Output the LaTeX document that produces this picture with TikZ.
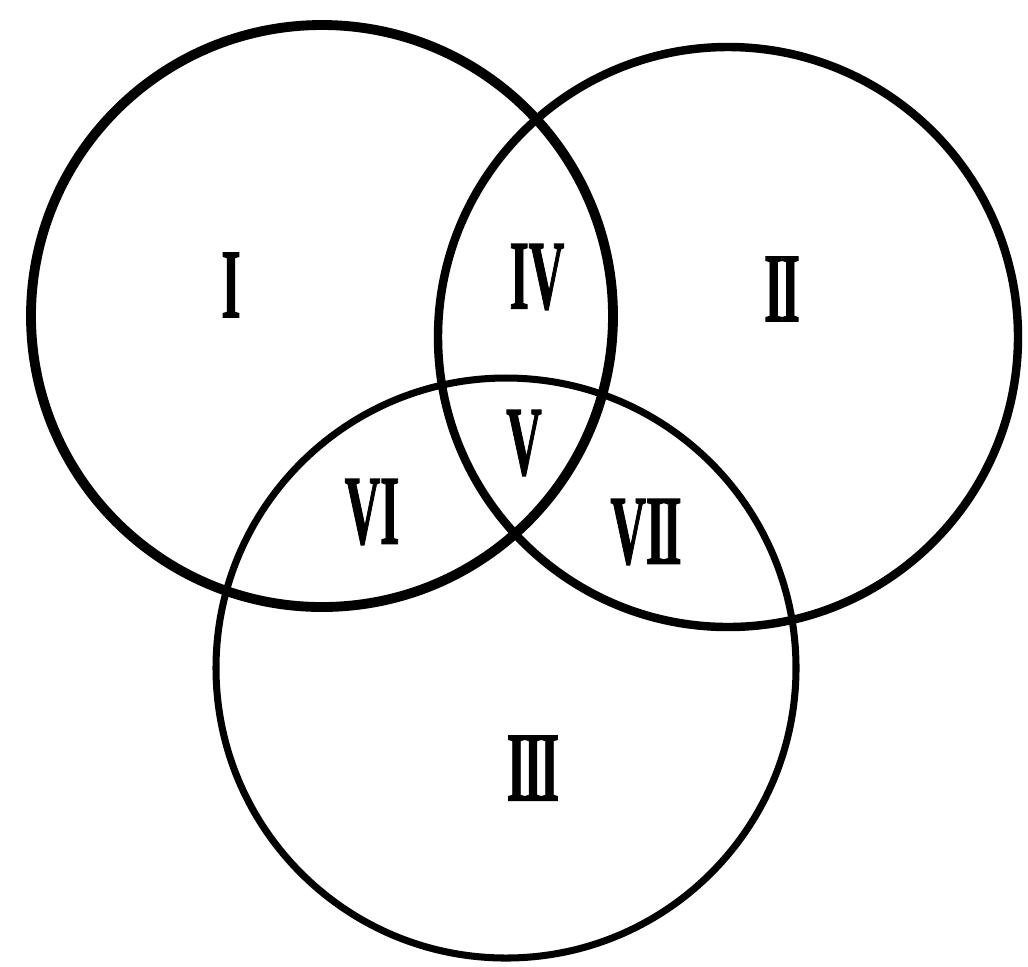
\documentclass[tikz,border=0pt]{standalone}
\usepackage{fontspec}
\usepackage{tikz}
\usetikzlibrary{positioning}
\newfontfamily\romfont[FakeBold=1.5]{Liberation Serif}
\newcommand{\numeral}[1]{\scalebox{0.5}[1]{#1}}

\begin{document}
\begin{tikzpicture}[
  x=0.01cm, y=-0.01cm,
  setcircle/.style={draw=black, line width=2.4pt},
  region/.style={font=\romfont\fontsize{28}{32}\selectfont\bfseries, inner sep=0pt},
]
\useasboundingbox (0,0) rectangle (1028,966);

% Centres of the three sets
\coordinate (cI) at (322,316);
\coordinate (cII) at (728,337);
\coordinate (cIII) at (506,668);

\draw[setcircle, line width=2.8pt] (cI) circle (291);
\draw[setcircle] (cII) circle (290);
\draw[setcircle, line width=2pt] (cIII) circle (290);

% Region labels
\node[region] (rI) at (231,285) {\numeral{I}};
\node[region] (rII) at (782,289) {\numeral{I\kern-1.5pt I}};
\node[region] (rIII) at (533,768) {\numeral{I\kern-1.5pt I\kern-1.5pt I}};
\node[region] (rIV) at (537,277) {\numeral{IV}};
\node[region] (rV) at (524,443) {\numeral{V}};
\node[region] (rVI) at (372,512) {\numeral{VI}};
\node[region] (rVII) at (646,532) {\numeral{VI\kern-1.5pt I}};

\end{tikzpicture}
\end{document}
